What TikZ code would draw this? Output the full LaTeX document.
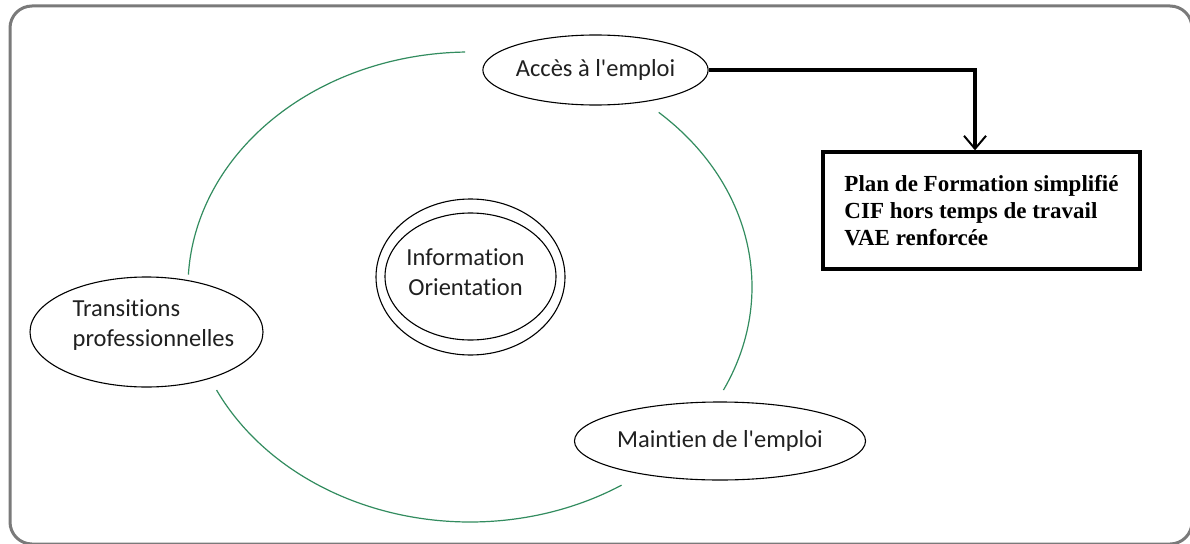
\documentclass[tikz,border=0pt]{standalone}
\usepackage{fontspec}
\setmainfont{Carlito}[Ligatures={TeXOff,NoCommon}]
\newfontfamily\serifb{Liberation Serif}
\usetikzlibrary{shapes.geometric,arrows.meta}
\definecolor{arcgreen}{RGB}{50,140,95}
\definecolor{bordergray}{RGB}{122,122,122}
\definecolor{txtcol}{RGB}{32,32,32}
\begin{document}
\begin{tikzpicture}[x=1pt,y=-1pt,
  oval/.style={ellipse, draw=black, line width=1.1pt, inner sep=0pt, text=txtcol,
    font=\fontsize{24.5}{30}\selectfont},
  lbl/.style={inner sep=0pt, text=txtcol, font=\fontsize{24.5}{30}\selectfont},
  arcline/.style={draw=arcgreen, line width=1.2pt},
  planbox/.style={draw=black, line width=3.3pt, rectangle, minimum width=317pt,
    minimum height=117pt, inner sep=0pt, align=left, text=black,
    font=\serifb\bfseries\fontsize{23}{27}\selectfont},
  link/.style={line width=4pt, -{Straight Barb[length=13pt,width=22pt,line width=2pt]}}
]
\useasboundingbox (0,0) rectangle (1190,543);
\fill[white] (0,0) rectangle (1190,543);
% outer frame
\draw[draw=bordergray, line width=3pt, rounded corners=22pt] (10,6) rectangle (1192,544);

% green cycle arcs
\draw[arcline] plot[domain=91:177,samples=90,smooth] ({470+282*cos(\x)},{287-235*sin(\x)});
\draw[arcline] plot[domain=206:302.5,samples=90,smooth] ({470+282*cos(\x)},{287-235*sin(\x)});
\draw[arcline] plot[domain=-26:48,samples=90,smooth] ({470+282*cos(\x)},{287-235*sin(\x)});

% nodes
\node[oval, minimum width=215pt, minimum height=70pt] (acces) at (595.5,70) {Accès à l'emploi};
\node[oval, minimum width=233pt, minimum height=110pt] (trans) at (146.5,332) {};
\node[lbl, align=left] (translbl) at (153.5,325) {Transitions\\professionnelles};
\node[oval, minimum width=189pt, minimum height=156pt] (infoout) at (470.5,277) {};
\node[oval, minimum width=171pt, minimum height=127pt] (info) at (470.5,276.5) {};
\node[lbl, align=center] (infolbl) at (465.5,272.5) {Information\\Orientation};
\node[oval, minimum width=274pt, minimum height=78pt] (maintien) at (720,441) {Maintien de l'emploi};

\node[planbox] (plan) at (981.5,210.5) {Plan de Formation simplifié\\CIF hors temps de travail\\VAE renforcée};

% connector
\draw[link] (acces.east) -| ([xshift=-6.5pt]plan.north);
\end{tikzpicture}
\end{document}
